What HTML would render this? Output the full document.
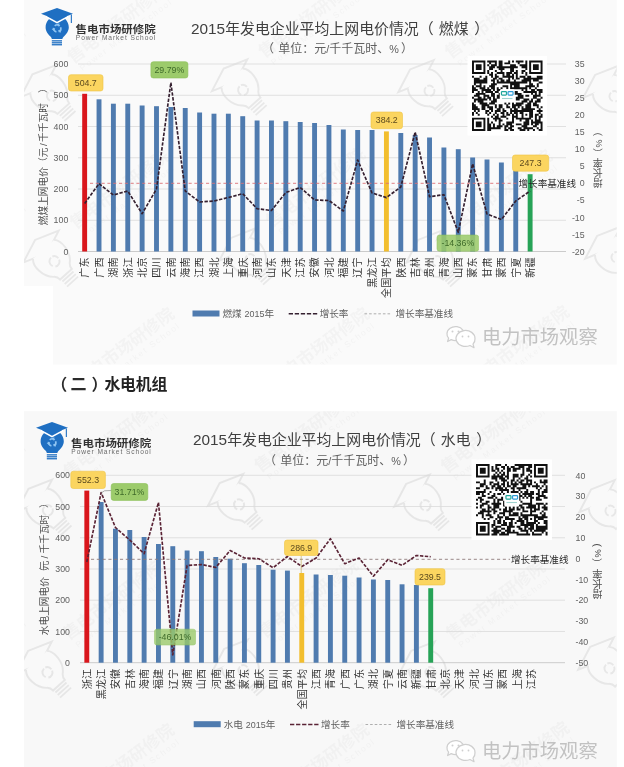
<!DOCTYPE html>
<html lang="zh"><head><meta charset="utf-8"><title>2015年发电企业平均上网电价情况</title>
<style>
html,body{margin:0;padding:0;background:#fff;}
body{width:624px;height:767px;overflow:hidden;position:relative;font-family:"Liberation Sans","Noto Sans CJK SC",sans-serif;}
svg{position:absolute;left:0;display:block;font-family:"Liberation Sans","Noto Sans CJK SC",sans-serif;}
svg text{font-family:"Liberation Sans","Noto Sans CJK SC",sans-serif;}
svg{will-change:transform;}
#c1{top:0;width:624px;height:366px;filter:blur(0.4px);}
#hd{top:366px;width:624px;height:34px;margin:0;position:absolute;left:0;}
#hd svg{top:0;width:624px;height:34px;filter:blur(0.3px);}
#c2{top:400px;width:624px;height:367px;filter:blur(0.4px);}
</style></head><body>
<svg id="c1" viewBox="0 0 624 366" role="img" aria-label="2015年发电企业平均上网电价情况（燃煤）">
<rect x="24.0" y="0.0" width="592.8" height="364.5" fill="#FAFAFA"/>
<rect x="23.0" y="286.0" width="30.0" height="80.0" fill="#fff"/>
<clipPath id="cp1"><rect x="24.0" y="0.0" width="592.8" height="364.5"/></clipPath><g clip-path="url(#cp1)">
<g transform="translate(51.4 95.4) rotate(-42) scale(1.49)" opacity="0.14" fill="#fff" stroke="#7f7f7f" stroke-width="1.3"><path d="M-16 -13 L0 -19 L16 -13 L0 -7 Z"/><path d="M-9.5 -10.5 C-13 -7 -13 3 -7 8 C-5.5 9.5 -5.3 10.5 -5.3 12 L5.3 12 C5.3 10.5 5.5 9.5 7 8 C13 3 13 -7 9.5 -10.5"/><path d="M-5 14 H5 M-5 16.3 H5 M-5 18.6 H5" stroke-width="1.2"/><path d="M-3 2 A3.5 3.5 0 0 1 0 -3 M3.2 1.6 A3.5 3.5 0 0 1 -1.8 3.4 M1.2 -3 A3.5 3.5 0 0 1 3.4 0.6" stroke-width="1.3"/></g>
<g transform="translate(242.6 89.6) rotate(-42) scale(1.49)" opacity="0.14" fill="#fff" stroke="#7f7f7f" stroke-width="1.3"><path d="M-16 -13 L0 -19 L16 -13 L0 -7 Z"/><path d="M-9.5 -10.5 C-13 -7 -13 3 -7 8 C-5.5 9.5 -5.3 10.5 -5.3 12 L5.3 12 C5.3 10.5 5.5 9.5 7 8 C13 3 13 -7 9.5 -10.5"/><path d="M-5 14 H5 M-5 16.3 H5 M-5 18.6 H5" stroke-width="1.2"/><path d="M-3 2 A3.5 3.5 0 0 1 0 -3 M3.2 1.6 A3.5 3.5 0 0 1 -1.8 3.4 M1.2 -3 A3.5 3.5 0 0 1 3.4 0.6" stroke-width="1.3"/></g>
<g transform="translate(429.0 90.5) rotate(-42) scale(1.49)" opacity="0.14" fill="#fff" stroke="#7f7f7f" stroke-width="1.3"><path d="M-16 -13 L0 -19 L16 -13 L0 -7 Z"/><path d="M-9.5 -10.5 C-13 -7 -13 3 -7 8 C-5.5 9.5 -5.3 10.5 -5.3 12 L5.3 12 C5.3 10.5 5.5 9.5 7 8 C13 3 13 -7 9.5 -10.5"/><path d="M-5 14 H5 M-5 16.3 H5 M-5 18.6 H5" stroke-width="1.2"/><path d="M-3 2 A3.5 3.5 0 0 1 0 -3 M3.2 1.6 A3.5 3.5 0 0 1 -1.8 3.4 M1.2 -3 A3.5 3.5 0 0 1 3.4 0.6" stroke-width="1.3"/></g>
<g transform="translate(614.0 96.0) rotate(-42) scale(1.49)" opacity="0.14" fill="#fff" stroke="#7f7f7f" stroke-width="1.3"><path d="M-16 -13 L0 -19 L16 -13 L0 -7 Z"/><path d="M-9.5 -10.5 C-13 -7 -13 3 -7 8 C-5.5 9.5 -5.3 10.5 -5.3 12 L5.3 12 C5.3 10.5 5.5 9.5 7 8 C13 3 13 -7 9.5 -10.5"/><path d="M-5 14 H5 M-5 16.3 H5 M-5 18.6 H5" stroke-width="1.2"/><path d="M-3 2 A3.5 3.5 0 0 1 0 -3 M3.2 1.6 A3.5 3.5 0 0 1 -1.8 3.4 M1.2 -3 A3.5 3.5 0 0 1 3.4 0.6" stroke-width="1.3"/></g>
<g transform="translate(54.0 261.0) rotate(-42) scale(1.49)" opacity="0.14" fill="#fff" stroke="#7f7f7f" stroke-width="1.3"><path d="M-16 -13 L0 -19 L16 -13 L0 -7 Z"/><path d="M-9.5 -10.5 C-13 -7 -13 3 -7 8 C-5.5 9.5 -5.3 10.5 -5.3 12 L5.3 12 C5.3 10.5 5.5 9.5 7 8 C13 3 13 -7 9.5 -10.5"/><path d="M-5 14 H5 M-5 16.3 H5 M-5 18.6 H5" stroke-width="1.2"/><path d="M-3 2 A3.5 3.5 0 0 1 0 -3 M3.2 1.6 A3.5 3.5 0 0 1 -1.8 3.4 M1.2 -3 A3.5 3.5 0 0 1 3.4 0.6" stroke-width="1.3"/></g>
<g transform="translate(250.0 259.0) rotate(-42) scale(1.49)" opacity="0.14" fill="#fff" stroke="#7f7f7f" stroke-width="1.3"><path d="M-16 -13 L0 -19 L16 -13 L0 -7 Z"/><path d="M-9.5 -10.5 C-13 -7 -13 3 -7 8 C-5.5 9.5 -5.3 10.5 -5.3 12 L5.3 12 C5.3 10.5 5.5 9.5 7 8 C13 3 13 -7 9.5 -10.5"/><path d="M-5 14 H5 M-5 16.3 H5 M-5 18.6 H5" stroke-width="1.2"/><path d="M-3 2 A3.5 3.5 0 0 1 0 -3 M3.2 1.6 A3.5 3.5 0 0 1 -1.8 3.4 M1.2 -3 A3.5 3.5 0 0 1 3.4 0.6" stroke-width="1.3"/></g>
<g transform="translate(437.0 261.0) rotate(-42) scale(1.49)" opacity="0.14" fill="#fff" stroke="#7f7f7f" stroke-width="1.3"><path d="M-16 -13 L0 -19 L16 -13 L0 -7 Z"/><path d="M-9.5 -10.5 C-13 -7 -13 3 -7 8 C-5.5 9.5 -5.3 10.5 -5.3 12 L5.3 12 C5.3 10.5 5.5 9.5 7 8 C13 3 13 -7 9.5 -10.5"/><path d="M-5 14 H5 M-5 16.3 H5 M-5 18.6 H5" stroke-width="1.2"/><path d="M-3 2 A3.5 3.5 0 0 1 0 -3 M3.2 1.6 A3.5 3.5 0 0 1 -1.8 3.4 M1.2 -3 A3.5 3.5 0 0 1 3.4 0.6" stroke-width="1.3"/></g>
<g transform="translate(616.0 257.0) rotate(-42) scale(1.49)" opacity="0.14" fill="#fff" stroke="#7f7f7f" stroke-width="1.3"><path d="M-16 -13 L0 -19 L16 -13 L0 -7 Z"/><path d="M-9.5 -10.5 C-13 -7 -13 3 -7 8 C-5.5 9.5 -5.3 10.5 -5.3 12 L5.3 12 C5.3 10.5 5.5 9.5 7 8 C13 3 13 -7 9.5 -10.5"/><path d="M-5 14 H5 M-5 16.3 H5 M-5 18.6 H5" stroke-width="1.2"/><path d="M-3 2 A3.5 3.5 0 0 1 0 -3 M3.2 1.6 A3.5 3.5 0 0 1 -1.8 3.4 M1.2 -3 A3.5 3.5 0 0 1 3.4 0.6" stroke-width="1.3"/></g>
<text transform="translate(120.40 28.40) rotate(-37)" font-size="17" font-weight="bold" fill="#9a9a9a" opacity="0.065" text-anchor="middle">售电市场研修院</text><text transform="translate(127.3 37.6) rotate(-37)" font-size="8.5" fill="#9a9a9a" opacity="0.0715" text-anchor="middle" textLength="112" lengthAdjust="spacing">Power Market School</text>
<text transform="translate(311.60 22.60) rotate(-37)" font-size="17" font-weight="bold" fill="#9a9a9a" opacity="0.065" text-anchor="middle">售电市场研修院</text><text transform="translate(318.5 31.8) rotate(-37)" font-size="8.5" fill="#9a9a9a" opacity="0.0715" text-anchor="middle" textLength="112" lengthAdjust="spacing">Power Market School</text>
<text transform="translate(498.00 23.50) rotate(-37)" font-size="17" font-weight="bold" fill="#9a9a9a" opacity="0.065" text-anchor="middle">售电市场研修院</text><text transform="translate(504.9 32.7) rotate(-37)" font-size="8.5" fill="#9a9a9a" opacity="0.0715" text-anchor="middle" textLength="112" lengthAdjust="spacing">Power Market School</text>
<text transform="translate(123.00 194.00) rotate(-37)" font-size="17" font-weight="bold" fill="#9a9a9a" opacity="0.065" text-anchor="middle">售电市场研修院</text><text transform="translate(129.9 203.2) rotate(-37)" font-size="8.5" fill="#9a9a9a" opacity="0.0715" text-anchor="middle" textLength="112" lengthAdjust="spacing">Power Market School</text>
<text transform="translate(319.00 192.00) rotate(-37)" font-size="17" font-weight="bold" fill="#9a9a9a" opacity="0.065" text-anchor="middle">售电市场研修院</text><text transform="translate(325.9 201.2) rotate(-37)" font-size="8.5" fill="#9a9a9a" opacity="0.0715" text-anchor="middle" textLength="112" lengthAdjust="spacing">Power Market School</text>
<text transform="translate(506.00 194.00) rotate(-37)" font-size="17" font-weight="bold" fill="#9a9a9a" opacity="0.065" text-anchor="middle">售电市场研修院</text><text transform="translate(512.9 203.2) rotate(-37)" font-size="8.5" fill="#9a9a9a" opacity="0.0715" text-anchor="middle" textLength="112" lengthAdjust="spacing">Power Market School</text>
<text transform="translate(128.00 352.00) rotate(-37)" font-size="17" font-weight="bold" fill="#9a9a9a" opacity="0.065" text-anchor="middle">售电市场研修院</text><text transform="translate(134.9 361.2) rotate(-37)" font-size="8.5" fill="#9a9a9a" opacity="0.0715" text-anchor="middle" textLength="112" lengthAdjust="spacing">Power Market School</text>
<text transform="translate(323.00 352.00) rotate(-37)" font-size="17" font-weight="bold" fill="#9a9a9a" opacity="0.065" text-anchor="middle">售电市场研修院</text><text transform="translate(329.9 361.2) rotate(-37)" font-size="8.5" fill="#9a9a9a" opacity="0.0715" text-anchor="middle" textLength="112" lengthAdjust="spacing">Power Market School</text>
<text transform="translate(523.00 350.00) rotate(-37)" font-size="17" font-weight="bold" fill="#9a9a9a" opacity="0.065" text-anchor="middle">售电市场研修院</text><text transform="translate(529.9 359.2) rotate(-37)" font-size="8.5" fill="#9a9a9a" opacity="0.0715" text-anchor="middle" textLength="112" lengthAdjust="spacing">Power Market School</text>
<text transform="translate(-25.00 60.00) rotate(-37)" font-size="17" font-weight="bold" fill="#9a9a9a" opacity="0.065" text-anchor="middle">售电市场研修院</text><text transform="translate(-18.1 69.2) rotate(-37)" font-size="8.5" fill="#9a9a9a" opacity="0.0715" text-anchor="middle" textLength="112" lengthAdjust="spacing">Power Market School</text>
<text transform="translate(-25.00 235.00) rotate(-37)" font-size="17" font-weight="bold" fill="#9a9a9a" opacity="0.065" text-anchor="middle">售电市场研修院</text><text transform="translate(-18.1 244.2) rotate(-37)" font-size="8.5" fill="#9a9a9a" opacity="0.0715" text-anchor="middle" textLength="112" lengthAdjust="spacing">Power Market School</text>
</g>
<line x1="78.00" y1="64.00" x2="566.00" y2="64.00" stroke="#D9D9D9" stroke-width="0.8"/>
<line x1="78.00" y1="95.25" x2="566.00" y2="95.25" stroke="#D9D9D9" stroke-width="0.8"/>
<line x1="78.00" y1="126.50" x2="566.00" y2="126.50" stroke="#D9D9D9" stroke-width="0.8"/>
<line x1="78.00" y1="157.75" x2="566.00" y2="157.75" stroke="#D9D9D9" stroke-width="0.8"/>
<line x1="78.00" y1="189.00" x2="566.00" y2="189.00" stroke="#D9D9D9" stroke-width="0.8"/>
<line x1="78.00" y1="220.25" x2="566.00" y2="220.25" stroke="#D9D9D9" stroke-width="0.8"/>
<line x1="78.00" y1="251.50" x2="566.00" y2="251.50" stroke="#BFBFBF" stroke-width="0.8"/>
<text x="68.30" y="67.10" font-size="8.80" fill="#606060" text-anchor="end">600</text>
<text x="68.30" y="98.35" font-size="8.80" fill="#606060" text-anchor="end">500</text>
<text x="68.30" y="129.60" font-size="8.80" fill="#606060" text-anchor="end">400</text>
<text x="68.30" y="160.85" font-size="8.80" fill="#606060" text-anchor="end">300</text>
<text x="68.30" y="192.10" font-size="8.80" fill="#606060" text-anchor="end">200</text>
<text x="68.30" y="223.35" font-size="8.80" fill="#606060" text-anchor="end">100</text>
<text x="68.30" y="254.60" font-size="8.80" fill="#606060" text-anchor="end">0</text>
<text x="584.60" y="67.10" font-size="8.80" fill="#606060" text-anchor="end">35</text>
<text x="584.60" y="84.15" font-size="8.80" fill="#606060" text-anchor="end">30</text>
<text x="584.60" y="101.19" font-size="8.80" fill="#606060" text-anchor="end">25</text>
<text x="584.60" y="118.24" font-size="8.80" fill="#606060" text-anchor="end">20</text>
<text x="584.60" y="135.28" font-size="8.80" fill="#606060" text-anchor="end">15</text>
<text x="584.60" y="152.33" font-size="8.80" fill="#606060" text-anchor="end">10</text>
<text x="584.60" y="169.37" font-size="8.80" fill="#606060" text-anchor="end">5</text>
<text x="584.60" y="186.42" font-size="8.80" fill="#606060" text-anchor="end">0</text>
<text x="584.60" y="203.46" font-size="8.80" fill="#606060" text-anchor="end">-5</text>
<text x="584.60" y="220.51" font-size="8.80" fill="#606060" text-anchor="end">-10</text>
<text x="584.60" y="237.55" font-size="8.80" fill="#606060" text-anchor="end">-15</text>
<text x="584.60" y="254.60" font-size="8.80" fill="#606060" text-anchor="end">-20</text>
<rect x="82.20" y="93.80" width="4.90" height="157.70" fill="#D9161C"/>
<rect x="96.57" y="99.30" width="4.90" height="152.20" fill="#4F7BAF"/>
<rect x="110.94" y="103.70" width="4.90" height="147.80" fill="#4F7BAF"/>
<rect x="125.31" y="103.70" width="4.90" height="147.80" fill="#4F7BAF"/>
<rect x="139.68" y="105.50" width="4.90" height="146.00" fill="#4F7BAF"/>
<rect x="154.05" y="106.20" width="4.90" height="145.30" fill="#4F7BAF"/>
<rect x="168.42" y="107.00" width="4.90" height="144.50" fill="#4F7BAF"/>
<rect x="182.79" y="108.00" width="4.90" height="143.50" fill="#4F7BAF"/>
<rect x="197.16" y="112.50" width="4.90" height="139.00" fill="#4F7BAF"/>
<rect x="211.53" y="113.70" width="4.90" height="137.80" fill="#4F7BAF"/>
<rect x="225.90" y="113.70" width="4.90" height="137.80" fill="#4F7BAF"/>
<rect x="240.27" y="116.20" width="4.90" height="135.30" fill="#4F7BAF"/>
<rect x="254.64" y="120.50" width="4.90" height="131.00" fill="#4F7BAF"/>
<rect x="269.01" y="120.50" width="4.90" height="131.00" fill="#4F7BAF"/>
<rect x="283.38" y="121.20" width="4.90" height="130.30" fill="#4F7BAF"/>
<rect x="297.75" y="122.00" width="4.90" height="129.50" fill="#4F7BAF"/>
<rect x="312.12" y="123.00" width="4.90" height="128.50" fill="#4F7BAF"/>
<rect x="326.49" y="125.00" width="4.90" height="126.50" fill="#4F7BAF"/>
<rect x="340.86" y="129.50" width="4.90" height="122.00" fill="#4F7BAF"/>
<rect x="355.23" y="130.00" width="4.90" height="121.50" fill="#4F7BAF"/>
<rect x="369.60" y="130.00" width="4.90" height="121.50" fill="#4F7BAF"/>
<rect x="383.97" y="131.40" width="4.90" height="120.10" fill="#F2BE2E"/>
<rect x="398.34" y="133.00" width="4.90" height="118.50" fill="#4F7BAF"/>
<rect x="412.71" y="135.00" width="4.90" height="116.50" fill="#4F7BAF"/>
<rect x="427.08" y="137.50" width="4.90" height="114.00" fill="#4F7BAF"/>
<rect x="441.45" y="147.50" width="4.90" height="104.00" fill="#4F7BAF"/>
<rect x="455.82" y="149.20" width="4.90" height="102.30" fill="#4F7BAF"/>
<rect x="470.19" y="157.50" width="4.90" height="94.00" fill="#4F7BAF"/>
<rect x="484.56" y="159.50" width="4.90" height="92.00" fill="#4F7BAF"/>
<rect x="498.93" y="162.50" width="4.90" height="89.00" fill="#4F7BAF"/>
<rect x="513.30" y="171.00" width="4.90" height="80.50" fill="#4F7BAF"/>
<rect x="527.67" y="174.20" width="4.90" height="77.30" fill="#27A357"/>
<line x1="90.00" y1="183.30" x2="518.00" y2="183.30" stroke="#DD6F75" stroke-width="0.9" stroke-dasharray="3.1 2.7"/>
<polyline points="84.65,203.50 99.02,183.70 113.39,195.00 127.76,191.00 142.13,213.70 156.50,189.00 170.87,82.60 185.24,191.00 199.61,202.00 213.98,201.00 228.35,197.50 242.72,193.70 257.09,208.70 271.46,210.50 285.83,192.50 300.20,187.50 314.57,200.00 328.94,200.50 343.31,211.00 357.68,160.00 372.05,193.00 386.42,197.60 400.79,187.00 415.16,132.00 429.53,196.70 443.90,194.70 458.27,232.30 472.64,163.80 487.01,214.00 501.38,219.50 515.75,201.00 530.12,191.00" fill="none" stroke="#352030" stroke-width="1.65" stroke-dasharray="3.4 1.5" stroke-linejoin="round"/>
<text transform="translate(88.45 257.50) rotate(-90)" font-size="10.1" fill="#333" text-anchor="end">广东</text>
<text transform="translate(102.82 257.50) rotate(-90)" font-size="10.1" fill="#333" text-anchor="end">广西</text>
<text transform="translate(117.19 257.50) rotate(-90)" font-size="10.1" fill="#333" text-anchor="end">湖南</text>
<text transform="translate(131.56 257.50) rotate(-90)" font-size="10.1" fill="#333" text-anchor="end">浙江</text>
<text transform="translate(145.93 257.50) rotate(-90)" font-size="10.1" fill="#333" text-anchor="end">北京</text>
<text transform="translate(160.30 257.50) rotate(-90)" font-size="10.1" fill="#333" text-anchor="end">四川</text>
<text transform="translate(174.67 257.50) rotate(-90)" font-size="10.1" fill="#333" text-anchor="end">云南</text>
<text transform="translate(189.04 257.50) rotate(-90)" font-size="10.1" fill="#333" text-anchor="end">海南</text>
<text transform="translate(203.41 257.50) rotate(-90)" font-size="10.1" fill="#333" text-anchor="end">江西</text>
<text transform="translate(217.78 257.50) rotate(-90)" font-size="10.1" fill="#333" text-anchor="end">湖北</text>
<text transform="translate(232.15 257.50) rotate(-90)" font-size="10.1" fill="#333" text-anchor="end">上海</text>
<text transform="translate(246.52 257.50) rotate(-90)" font-size="10.1" fill="#333" text-anchor="end">重庆</text>
<text transform="translate(260.89 257.50) rotate(-90)" font-size="10.1" fill="#333" text-anchor="end">河南</text>
<text transform="translate(275.26 257.50) rotate(-90)" font-size="10.1" fill="#333" text-anchor="end">山东</text>
<text transform="translate(289.63 257.50) rotate(-90)" font-size="10.1" fill="#333" text-anchor="end">天津</text>
<text transform="translate(304.00 257.50) rotate(-90)" font-size="10.1" fill="#333" text-anchor="end">江苏</text>
<text transform="translate(318.37 257.50) rotate(-90)" font-size="10.1" fill="#333" text-anchor="end">安徽</text>
<text transform="translate(332.74 257.50) rotate(-90)" font-size="10.1" fill="#333" text-anchor="end">河北</text>
<text transform="translate(347.11 257.50) rotate(-90)" font-size="10.1" fill="#333" text-anchor="end">福建</text>
<text transform="translate(361.48 257.50) rotate(-90)" font-size="10.1" fill="#333" text-anchor="end">辽宁</text>
<text transform="translate(375.85 257.50) rotate(-90)" font-size="10.1" fill="#333" text-anchor="end">黑龙江</text>
<text transform="translate(390.22 257.50) rotate(-90)" font-size="10.1" fill="#333" text-anchor="end">全国平均</text>
<text transform="translate(404.59 257.50) rotate(-90)" font-size="10.1" fill="#333" text-anchor="end">陕西</text>
<text transform="translate(418.96 257.50) rotate(-90)" font-size="10.1" fill="#333" text-anchor="end">吉林</text>
<text transform="translate(433.33 257.50) rotate(-90)" font-size="10.1" fill="#333" text-anchor="end">贵州</text>
<text transform="translate(447.70 257.50) rotate(-90)" font-size="10.1" fill="#333" text-anchor="end">青海</text>
<text transform="translate(462.07 257.50) rotate(-90)" font-size="10.1" fill="#333" text-anchor="end">山西</text>
<text transform="translate(476.44 257.50) rotate(-90)" font-size="10.1" fill="#333" text-anchor="end">蒙东</text>
<text transform="translate(490.81 257.50) rotate(-90)" font-size="10.1" fill="#333" text-anchor="end">甘肃</text>
<text transform="translate(505.18 257.50) rotate(-90)" font-size="10.1" fill="#333" text-anchor="end">蒙西</text>
<text transform="translate(519.55 257.50) rotate(-90)" font-size="10.1" fill="#333" text-anchor="end">宁夏</text>
<text transform="translate(533.92 257.50) rotate(-90)" font-size="10.1" fill="#333" text-anchor="end">新疆</text>
<text x="518.50" y="186.90" font-size="9.6" fill="#262626">增长率基准线</text>
<g transform="translate(46.70 225.20) rotate(-90)" fill="#4d4d4d" aria-label="燃煤上网电价（元/千千瓦时）"><text x="0" y="0" font-size="9.7">燃煤上网电价（</text><text x="67.90" y="0" font-size="9.7">元</text><text x="79.10" y="0" font-size="9.70">/</text><text x="83.29" y="0" font-size="9.7">千千瓦时</text><text x="132.09" y="0" font-size="9.7">）</text></g>
<text transform="translate(597.70 179.10) rotate(180)" font-size="10" fill="#4d4d4d" text-anchor="middle">增</text>
<text transform="translate(597.70 169.10) rotate(180)" font-size="10" fill="#4d4d4d" text-anchor="middle">长</text>
<text transform="translate(597.70 159.10) rotate(180)" font-size="10" fill="#4d4d4d" text-anchor="middle">率</text>
<g transform="translate(601.50 157.90) rotate(-90)" fill="#4d4d4d" aria-label="（%）"><text x="0" y="0" font-size="10">（</text><text x="10.30" y="0" font-size="9.00">%</text><text x="21.60" y="0" font-size="10">）</text></g>
<g transform="translate(191.00 33.50)" fill="#404040" aria-label="2015年发电企业平均上网电价情况（燃煤）"><text x="0.00" y="0" font-size="15.35">2015</text><text x="34.14" y="0" font-size="14.9">年发电企业平均上网电价情况（</text><text x="247.84" y="0" font-size="14.9">燃煤</text><text x="283.34" y="0" font-size="14.9">）</text></g>
<g transform="translate(262.00 53.20)" fill="#606060" aria-label="（单位：元/千千瓦时、%）"><text x="0" y="0" font-size="12">（</text><text x="16.30" y="0" font-size="12">单位：元</text><text x="64.30" y="0" font-size="10.80">/</text><text x="67.30" y="0" font-size="12">千千瓦时、</text><text x="127.30" y="0" font-size="10.80">%</text><text x="138.90" y="0" font-size="12">）</text></g>
<g transform="translate(41.00 8.00)"><path d="M16.2 8 C9.5 8 4.6 13 4.6 19.3 C4.6 23.5 7 26 9.2 28.3 C10.3 29.5 10.8 30.3 10.8 31 L21.4 31 C21.4 30.3 22 29.5 23.1 28.3 C25.3 26 27.8 23.5 27.8 19.3 C27.8 13 22.9 8 16.2 8 Z" fill="#1F6FC2"/><rect x="10.8" y="32.20" width="10.2" height="1.3" fill="#1F6FC2"/><rect x="10.8" y="34.15" width="10.2" height="1.3" fill="#1F6FC2"/><rect x="10.8" y="36.10" width="10.2" height="1.3" fill="#1F6FC2"/><path d="M5 9.5 L16 15.5 L27 9.5 L27 6 L5 6 Z" fill="#fff"/><path d="M6.5 8.5 L16 13.8 L25.7 8.5 L25.7 6 L6.5 6 Z" fill="#1F6FC2"/><path d="M0 5.8 L16 0 L32 5.8 L16 12 Z" fill="#1F6FC2"/><rect x="29.8" y="6.5" width="1.1" height="8.5" fill="#1F6FC2"/><g fill="none" stroke="#8FC4F2" stroke-width="1.7" transform="translate(16.2 20.4)"><circle r="3.6" stroke-dasharray="5.3 2.24" transform="rotate(-20)"/></g><g fill="#8FC4F2" transform="translate(16.2 20.4)"><path d="M3.6 -1.9 L5.6 0.4 L1.9 0.6 Z" transform="rotate(50)"/><path d="M3.6 -1.9 L5.6 0.4 L1.9 0.6 Z" transform="rotate(170)"/><path d="M3.6 -1.9 L5.6 0.4 L1.9 0.6 Z" transform="rotate(290)"/></g></g>
<text transform="translate(75.50 32.50) scale(1.115 1)" font-size="10.3" font-weight="bold" fill="#333">售电市场研修院</text><text x="75.80" y="40.10" font-size="6.6" fill="#6a6a6a" textLength="79.5" lengthAdjust="spacing">Power Market School</text>
<rect x="467.50" y="56.00" width="79.50" height="79.50" fill="#fff"/><path d="M472.00 60.50h13.39v1.96h-13.39zM487.24 60.50h9.58v1.96h-9.58zM498.68 60.50h3.86v1.96h-3.86zM508.20 60.50h1.96v1.96h-1.96zM512.01 60.50h1.96v1.96h-1.96zM515.82 60.50h7.67v1.96h-7.67zM525.35 60.50h1.96v1.96h-1.96zM529.16 60.50h13.39v1.96h-13.39zM472.00 62.41h1.96v1.96h-1.96zM483.43 62.41h1.96v1.96h-1.96zM489.15 62.41h1.96v1.96h-1.96zM494.86 62.41h1.96v1.96h-1.96zM498.68 62.41h3.86v1.96h-3.86zM504.39 62.41h5.77v1.96h-5.77zM517.73 62.41h1.96v1.96h-1.96zM525.35 62.41h1.96v1.96h-1.96zM529.16 62.41h1.96v1.96h-1.96zM540.59 62.41h1.96v1.96h-1.96zM472.00 64.31h1.96v1.96h-1.96zM475.81 64.31h5.77v1.96h-5.77zM483.43 64.31h1.96v1.96h-1.96zM487.24 64.31h1.96v1.96h-1.96zM491.05 64.31h5.77v1.96h-5.77zM498.68 64.31h3.86v1.96h-3.86zM510.11 64.31h5.77v1.96h-5.77zM519.64 64.31h7.67v1.96h-7.67zM529.16 64.31h1.96v1.96h-1.96zM532.97 64.31h5.77v1.96h-5.77zM540.59 64.31h1.96v1.96h-1.96zM472.00 66.22h1.96v1.96h-1.96zM475.81 66.22h5.77v1.96h-5.77zM483.43 66.22h1.96v1.96h-1.96zM489.15 66.22h5.77v1.96h-5.77zM496.77 66.22h21.01v1.96h-21.01zM521.54 66.22h5.77v1.96h-5.77zM529.16 66.22h1.96v1.96h-1.96zM532.97 66.22h5.77v1.96h-5.77zM540.59 66.22h1.96v1.96h-1.96zM472.00 68.12h1.96v1.96h-1.96zM475.81 68.12h5.77v1.96h-5.77zM483.43 68.12h1.96v1.96h-1.96zM489.15 68.12h3.86v1.96h-3.86zM498.68 68.12h5.77v1.96h-5.77zM510.11 68.12h3.86v1.96h-3.86zM525.35 68.12h1.96v1.96h-1.96zM529.16 68.12h1.96v1.96h-1.96zM532.97 68.12h5.77v1.96h-5.77zM540.59 68.12h1.96v1.96h-1.96zM472.00 70.03h1.96v1.96h-1.96zM483.43 70.03h1.96v1.96h-1.96zM487.24 70.03h1.96v1.96h-1.96zM494.86 70.03h1.96v1.96h-1.96zM500.58 70.03h1.96v1.96h-1.96zM510.11 70.03h3.86v1.96h-3.86zM515.82 70.03h1.96v1.96h-1.96zM521.54 70.03h3.86v1.96h-3.86zM529.16 70.03h1.96v1.96h-1.96zM540.59 70.03h1.96v1.96h-1.96zM472.00 71.93h13.39v1.96h-13.39zM487.24 71.93h1.96v1.96h-1.96zM491.05 71.93h1.96v1.96h-1.96zM496.77 71.93h7.67v1.96h-7.67zM506.30 71.93h5.77v1.96h-5.77zM513.92 71.93h3.86v1.96h-3.86zM521.54 71.93h1.96v1.96h-1.96zM525.35 71.93h1.96v1.96h-1.96zM529.16 71.93h13.39v1.96h-13.39zM489.15 73.84h3.86v1.96h-3.86zM494.86 73.84h1.96v1.96h-1.96zM502.49 73.84h1.96v1.96h-1.96zM506.30 73.84h3.86v1.96h-3.86zM512.01 73.84h1.96v1.96h-1.96zM515.82 73.84h1.96v1.96h-1.96zM525.35 73.84h1.96v1.96h-1.96zM472.00 75.74h1.96v1.96h-1.96zM479.62 75.74h1.96v1.96h-1.96zM485.34 75.74h1.96v1.96h-1.96zM491.05 75.74h1.96v1.96h-1.96zM494.86 75.74h3.86v1.96h-3.86zM502.49 75.74h11.48v1.96h-11.48zM515.82 75.74h1.96v1.96h-1.96zM519.64 75.74h5.77v1.96h-5.77zM527.26 75.74h3.86v1.96h-3.86zM536.78 75.74h5.77v1.96h-5.77zM473.91 77.65h5.77v1.96h-5.77zM483.43 77.65h3.86v1.96h-3.86zM492.96 77.65h3.86v1.96h-3.86zM498.68 77.65h3.86v1.96h-3.86zM508.20 77.65h1.96v1.96h-1.96zM512.01 77.65h1.96v1.96h-1.96zM515.82 77.65h3.86v1.96h-3.86zM523.45 77.65h19.10v1.96h-19.10zM473.91 79.55h13.39v1.96h-13.39zM491.05 79.55h3.86v1.96h-3.86zM496.77 79.55h1.96v1.96h-1.96zM500.58 79.55h3.86v1.96h-3.86zM506.30 79.55h3.86v1.96h-3.86zM513.92 79.55h1.96v1.96h-1.96zM521.54 79.55h9.58v1.96h-9.58zM532.97 79.55h5.77v1.96h-5.77zM473.91 81.46h13.39v1.96h-13.39zM492.96 81.46h1.96v1.96h-1.96zM496.77 81.46h30.54v1.96h-30.54zM529.16 81.46h1.96v1.96h-1.96zM538.69 81.46h3.86v1.96h-3.86zM473.91 83.36h1.96v1.96h-1.96zM479.62 83.36h1.96v1.96h-1.96zM491.05 83.36h5.77v1.96h-5.77zM510.11 83.36h9.58v1.96h-9.58zM529.16 83.36h3.86v1.96h-3.86zM536.78 83.36h1.96v1.96h-1.96zM472.00 85.27h1.96v1.96h-1.96zM475.81 85.27h5.77v1.96h-5.77zM483.43 85.27h1.96v1.96h-1.96zM489.15 85.27h5.77v1.96h-5.77zM502.49 85.27h5.77v1.96h-5.77zM510.11 85.27h1.96v1.96h-1.96zM513.92 85.27h5.77v1.96h-5.77zM525.35 85.27h9.58v1.96h-9.58zM536.78 85.27h1.96v1.96h-1.96zM472.00 87.18h3.86v1.96h-3.86zM479.62 87.18h5.77v1.96h-5.77zM487.24 87.18h1.96v1.96h-1.96zM491.05 87.18h3.86v1.96h-3.86zM496.77 87.18h1.96v1.96h-1.96zM500.58 87.18h1.96v1.96h-1.96zM506.30 87.18h1.96v1.96h-1.96zM510.11 87.18h17.20v1.96h-17.20zM529.16 87.18h1.96v1.96h-1.96zM534.88 87.18h1.96v1.96h-1.96zM472.00 89.08h5.77v1.96h-5.77zM481.53 89.08h9.58v1.96h-9.58zM492.96 89.08h1.96v1.96h-1.96zM496.77 89.08h3.86v1.96h-3.86zM521.54 89.08h1.96v1.96h-1.96zM525.35 89.08h1.96v1.96h-1.96zM531.07 89.08h3.86v1.96h-3.86zM536.78 89.08h5.77v1.96h-5.77zM472.00 90.99h1.96v1.96h-1.96zM477.72 90.99h1.96v1.96h-1.96zM481.53 90.99h1.96v1.96h-1.96zM485.34 90.99h7.67v1.96h-7.67zM494.86 90.99h3.86v1.96h-3.86zM513.92 90.99h3.86v1.96h-3.86zM523.45 90.99h13.39v1.96h-13.39zM538.69 90.99h3.86v1.96h-3.86zM475.81 92.89h9.58v1.96h-9.58zM491.05 92.89h3.86v1.96h-3.86zM498.68 92.89h1.96v1.96h-1.96zM513.92 92.89h7.67v1.96h-7.67zM531.07 92.89h1.96v1.96h-1.96zM534.88 92.89h1.96v1.96h-1.96zM538.69 92.89h1.96v1.96h-1.96zM473.91 94.80h5.77v1.96h-5.77zM483.43 94.80h5.77v1.96h-5.77zM491.05 94.80h3.86v1.96h-3.86zM496.77 94.80h3.86v1.96h-3.86zM517.73 94.80h5.77v1.96h-5.77zM525.35 94.80h3.86v1.96h-3.86zM532.97 94.80h7.67v1.96h-7.67zM472.00 96.70h1.96v1.96h-1.96zM477.72 96.70h3.86v1.96h-3.86zM483.43 96.70h1.96v1.96h-1.96zM487.24 96.70h3.86v1.96h-3.86zM492.96 96.70h1.96v1.96h-1.96zM496.77 96.70h3.86v1.96h-3.86zM515.82 96.70h7.67v1.96h-7.67zM532.97 96.70h3.86v1.96h-3.86zM540.59 96.70h1.96v1.96h-1.96zM473.91 98.61h13.39v1.96h-13.39zM489.15 98.61h1.96v1.96h-1.96zM492.96 98.61h3.86v1.96h-3.86zM515.82 98.61h3.86v1.96h-3.86zM523.45 98.61h5.77v1.96h-5.77zM531.07 98.61h1.96v1.96h-1.96zM536.78 98.61h3.86v1.96h-3.86zM473.91 100.51h1.96v1.96h-1.96zM477.72 100.51h5.77v1.96h-5.77zM491.05 100.51h5.77v1.96h-5.77zM521.54 100.51h5.77v1.96h-5.77zM529.16 100.51h3.86v1.96h-3.86zM534.88 100.51h5.77v1.96h-5.77zM472.00 102.42h1.96v1.96h-1.96zM479.62 102.42h7.67v1.96h-7.67zM489.15 102.42h5.77v1.96h-5.77zM504.39 102.42h1.96v1.96h-1.96zM508.20 102.42h1.96v1.96h-1.96zM512.01 102.42h1.96v1.96h-1.96zM515.82 102.42h7.67v1.96h-7.67zM527.26 102.42h3.86v1.96h-3.86zM532.97 102.42h3.86v1.96h-3.86zM472.00 104.32h3.86v1.96h-3.86zM481.53 104.32h7.67v1.96h-7.67zM494.86 104.32h1.96v1.96h-1.96zM498.68 104.32h3.86v1.96h-3.86zM506.30 104.32h1.96v1.96h-1.96zM512.01 104.32h9.58v1.96h-9.58zM525.35 104.32h5.77v1.96h-5.77zM532.97 104.32h5.77v1.96h-5.77zM472.00 106.23h5.77v1.96h-5.77zM481.53 106.23h3.86v1.96h-3.86zM487.24 106.23h5.77v1.96h-5.77zM494.86 106.23h1.96v1.96h-1.96zM498.68 106.23h3.86v1.96h-3.86zM506.30 106.23h3.86v1.96h-3.86zM512.01 106.23h3.86v1.96h-3.86zM517.73 106.23h1.96v1.96h-1.96zM521.54 106.23h1.96v1.96h-1.96zM525.35 106.23h5.77v1.96h-5.77zM536.78 106.23h1.96v1.96h-1.96zM540.59 106.23h1.96v1.96h-1.96zM472.00 108.14h7.67v1.96h-7.67zM481.53 108.14h3.86v1.96h-3.86zM489.15 108.14h3.86v1.96h-3.86zM496.77 108.14h3.86v1.96h-3.86zM502.49 108.14h1.96v1.96h-1.96zM510.11 108.14h1.96v1.96h-1.96zM513.92 108.14h3.86v1.96h-3.86zM521.54 108.14h13.39v1.96h-13.39zM538.69 108.14h1.96v1.96h-1.96zM473.91 110.04h1.96v1.96h-1.96zM477.72 110.04h1.96v1.96h-1.96zM485.34 110.04h3.86v1.96h-3.86zM491.05 110.04h1.96v1.96h-1.96zM494.86 110.04h5.77v1.96h-5.77zM502.49 110.04h3.86v1.96h-3.86zM510.11 110.04h22.91v1.96h-22.91zM536.78 110.04h5.77v1.96h-5.77zM472.00 111.95h1.96v1.96h-1.96zM475.81 111.95h1.96v1.96h-1.96zM485.34 111.95h1.96v1.96h-1.96zM489.15 111.95h1.96v1.96h-1.96zM494.86 111.95h1.96v1.96h-1.96zM500.58 111.95h3.86v1.96h-3.86zM506.30 111.95h1.96v1.96h-1.96zM510.11 111.95h1.96v1.96h-1.96zM513.92 111.95h3.86v1.96h-3.86zM519.64 111.95h3.86v1.96h-3.86zM529.16 111.95h3.86v1.96h-3.86zM538.69 111.95h1.96v1.96h-1.96zM472.00 113.85h1.96v1.96h-1.96zM477.72 113.85h1.96v1.96h-1.96zM487.24 113.85h1.96v1.96h-1.96zM492.96 113.85h1.96v1.96h-1.96zM496.77 113.85h1.96v1.96h-1.96zM502.49 113.85h1.96v1.96h-1.96zM506.30 113.85h3.86v1.96h-3.86zM512.01 113.85h1.96v1.96h-1.96zM515.82 113.85h1.96v1.96h-1.96zM521.54 113.85h1.96v1.96h-1.96zM525.35 113.85h1.96v1.96h-1.96zM529.16 113.85h3.86v1.96h-3.86zM534.88 113.85h3.86v1.96h-3.86zM540.59 113.85h1.96v1.96h-1.96zM491.05 115.76h1.96v1.96h-1.96zM494.86 115.76h3.86v1.96h-3.86zM500.58 115.76h5.77v1.96h-5.77zM512.01 115.76h5.77v1.96h-5.77zM521.54 115.76h1.96v1.96h-1.96zM529.16 115.76h3.86v1.96h-3.86zM534.88 115.76h1.96v1.96h-1.96zM538.69 115.76h3.86v1.96h-3.86zM472.00 117.66h13.39v1.96h-13.39zM487.24 117.66h1.96v1.96h-1.96zM492.96 117.66h7.67v1.96h-7.67zM506.30 117.66h1.96v1.96h-1.96zM512.01 117.66h1.96v1.96h-1.96zM515.82 117.66h15.29v1.96h-15.29zM534.88 117.66h1.96v1.96h-1.96zM538.69 117.66h1.96v1.96h-1.96zM472.00 119.57h1.96v1.96h-1.96zM483.43 119.57h1.96v1.96h-1.96zM487.24 119.57h1.96v1.96h-1.96zM494.86 119.57h1.96v1.96h-1.96zM498.68 119.57h3.86v1.96h-3.86zM512.01 119.57h1.96v1.96h-1.96zM519.64 119.57h1.96v1.96h-1.96zM525.35 119.57h3.86v1.96h-3.86zM531.07 119.57h1.96v1.96h-1.96zM534.88 119.57h5.77v1.96h-5.77zM472.00 121.47h1.96v1.96h-1.96zM475.81 121.47h5.77v1.96h-5.77zM483.43 121.47h1.96v1.96h-1.96zM487.24 121.47h1.96v1.96h-1.96zM491.05 121.47h1.96v1.96h-1.96zM498.68 121.47h1.96v1.96h-1.96zM506.30 121.47h7.67v1.96h-7.67zM523.45 121.47h5.77v1.96h-5.77zM531.07 121.47h11.48v1.96h-11.48zM472.00 123.38h1.96v1.96h-1.96zM475.81 123.38h5.77v1.96h-5.77zM483.43 123.38h1.96v1.96h-1.96zM487.24 123.38h3.86v1.96h-3.86zM492.96 123.38h1.96v1.96h-1.96zM498.68 123.38h1.96v1.96h-1.96zM502.49 123.38h1.96v1.96h-1.96zM506.30 123.38h5.77v1.96h-5.77zM515.82 123.38h5.77v1.96h-5.77zM523.45 123.38h5.77v1.96h-5.77zM531.07 123.38h1.96v1.96h-1.96zM534.88 123.38h3.86v1.96h-3.86zM540.59 123.38h1.96v1.96h-1.96zM472.00 125.28h1.96v1.96h-1.96zM475.81 125.28h5.77v1.96h-5.77zM483.43 125.28h1.96v1.96h-1.96zM487.24 125.28h3.86v1.96h-3.86zM492.96 125.28h1.96v1.96h-1.96zM496.77 125.28h5.77v1.96h-5.77zM504.39 125.28h3.86v1.96h-3.86zM510.11 125.28h3.86v1.96h-3.86zM521.54 125.28h5.77v1.96h-5.77zM532.97 125.28h3.86v1.96h-3.86zM540.59 125.28h1.96v1.96h-1.96zM472.00 127.19h1.96v1.96h-1.96zM483.43 127.19h1.96v1.96h-1.96zM487.24 127.19h13.39v1.96h-13.39zM504.39 127.19h1.96v1.96h-1.96zM508.20 127.19h3.86v1.96h-3.86zM517.73 127.19h3.86v1.96h-3.86zM523.45 127.19h9.58v1.96h-9.58zM536.78 127.19h1.96v1.96h-1.96zM540.59 127.19h1.96v1.96h-1.96zM472.00 129.09h13.39v1.96h-13.39zM487.24 129.09h3.86v1.96h-3.86zM504.39 129.09h3.86v1.96h-3.86zM510.11 129.09h3.86v1.96h-3.86zM519.64 129.09h5.77v1.96h-5.77zM527.26 129.09h1.96v1.96h-1.96zM532.97 129.09h1.96v1.96h-1.96zM538.69 129.09h3.86v1.96h-3.86z" fill="#111"/><rect x="499.75" y="89.25" width="15" height="13" rx="1.5" fill="#fff"/><rect x="501.45" y="91.55" width="5" height="3.6" rx="0.8" fill="none" stroke="#1FA79A" stroke-width="1.2"/><rect x="508.05" y="91.55" width="5" height="3.6" rx="0.8" fill="none" stroke="#2C9BD6" stroke-width="1.2"/><rect x="501.95" y="97.95" width="10.5" height="1.1" fill="#9fd3cf"/>
<rect x="192.50" y="310.50" width="27" height="6" fill="#4F7BAF"/>
<g transform="translate(222.50 317.00)" fill="#606060" aria-label="燃煤 2015年"><text x="0" y="0" font-size="9.6">燃煤</text><text x="22.08" y="0" font-size="8.93">2015</text><text x="41.94" y="0" font-size="9.6">年</text></g>
<line x1="288.70" y1="313.80" x2="318.20" y2="313.80" stroke="#352030" stroke-width="1.6" stroke-dasharray="4.3 1.75"/>
<text x="319.70" y="317.00" font-size="9.6" fill="#606060">增长率</text>
<line x1="364.50" y1="313.80" x2="391.00" y2="313.80" stroke="#9a9a9a" stroke-width="0.8" stroke-dasharray="2.6 2"/>
<text x="395.50" y="317.00" font-size="9.6" fill="#606060">增长率基准线</text>
<rect x="68.50" y="74.70" width="34.50" height="16.30" rx="2.5" fill="#FBD560" stroke="#EFC443" stroke-width="0.6" opacity="1"/><text x="85.75" y="85.95" font-size="8.80" fill="#5C4A1E" text-anchor="middle">504.7</text>
<rect x="150.90" y="61.70" width="37.00" height="16.30" rx="2.5" fill="#9CCB6B" stroke="#8ABF58" stroke-width="0.6" opacity="1"/><text x="169.40" y="72.95" font-size="8.80" fill="#3F6B2A" text-anchor="middle">29.79%</text>
<rect x="371.00" y="112.00" width="31.50" height="16.70" rx="2.5" fill="#FBD560" stroke="#EFC443" stroke-width="0.6" opacity="1"/><text x="386.75" y="123.45" font-size="8.80" fill="#5C4A1E" text-anchor="middle">384.2</text>
<rect x="512.50" y="155.00" width="36.20" height="16.20" rx="2.5" fill="#FBD560" stroke="#EFC443" stroke-width="0.6" opacity="1"/><text x="530.60" y="166.20" font-size="8.80" fill="#5C4A1E" text-anchor="middle">247.3</text>
<rect x="437.00" y="235.00" width="41.70" height="16.20" rx="2.5" fill="#9CCB6B" stroke="#8ABF58" stroke-width="0.6" opacity="0.88"/><text x="457.85" y="246.20" font-size="8.80" fill="#3F6B2A" text-anchor="middle">-14.36%</text>
<g fill="none" stroke="#CFCFCF" stroke-width="1.25" stroke-linejoin="round"><path d="M447.00 333.50 a8.5 7 0 1 1 4.2 6.1 l-3.6 1.9 l1 -3.3 a8.5 7 0 0 1 -1.6 -4.7 z" fill="#fff"/><path d="M475.00 338.50 a9.5 8 0 1 0 -5 7 l4 2.2 l-1 -3.6 a9.5 8 0 0 0 2 -5.6 z" fill="#fff"/></g><g fill="#CFCFCF"><circle cx="452.50" cy="331.50" r="1"/><circle cx="458.50" cy="331.50" r="1"/><circle cx="462.50" cy="336.50" r="0.9"/><circle cx="468.50" cy="336.50" r="0.9"/></g>
<text x="482.00" y="343.50" font-size="19.3" fill="#C2C2C2">电力市场观察</text>
</svg>
<h3 id="hd"><svg viewBox="0 366 624 34" role="img" aria-label="（二）水电机组"><text x="51.20" y="390.00" font-size="16" fill="#2b2b2b">（</text><text x="70.60" y="390.00" font-size="16" fill="#2b2b2b">二</text><text x="91.40" y="390.00" font-size="16" fill="#2b2b2b">）</text><text x="104.40" y="390.00" font-size="15.9" font-weight="bold" letter-spacing="-0.2" fill="#222">水电机组</text></svg></h3>
<svg id="c2" viewBox="0 400 624 367" role="img" aria-label="2015年发电企业平均上网电价情况（水电）">
<rect x="24.0" y="411.2" width="592.8" height="356.0" fill="#F8F8F8"/>
<clipPath id="cp2"><rect x="24.0" y="411.2" width="592.8" height="356.0"/></clipPath><g clip-path="url(#cp2)">
<g transform="translate(47.4 509.9) rotate(-42) scale(1.49)" opacity="0.14" fill="#fff" stroke="#7f7f7f" stroke-width="1.3"><path d="M-16 -13 L0 -19 L16 -13 L0 -7 Z"/><path d="M-9.5 -10.5 C-13 -7 -13 3 -7 8 C-5.5 9.5 -5.3 10.5 -5.3 12 L5.3 12 C5.3 10.5 5.5 9.5 7 8 C13 3 13 -7 9.5 -10.5"/><path d="M-5 14 H5 M-5 16.3 H5 M-5 18.6 H5" stroke-width="1.2"/><path d="M-3 2 A3.5 3.5 0 0 1 0 -3 M3.2 1.6 A3.5 3.5 0 0 1 -1.8 3.4 M1.2 -3 A3.5 3.5 0 0 1 3.4 0.6" stroke-width="1.3"/></g>
<g transform="translate(238.6 504.1) rotate(-42) scale(1.49)" opacity="0.14" fill="#fff" stroke="#7f7f7f" stroke-width="1.3"><path d="M-16 -13 L0 -19 L16 -13 L0 -7 Z"/><path d="M-9.5 -10.5 C-13 -7 -13 3 -7 8 C-5.5 9.5 -5.3 10.5 -5.3 12 L5.3 12 C5.3 10.5 5.5 9.5 7 8 C13 3 13 -7 9.5 -10.5"/><path d="M-5 14 H5 M-5 16.3 H5 M-5 18.6 H5" stroke-width="1.2"/><path d="M-3 2 A3.5 3.5 0 0 1 0 -3 M3.2 1.6 A3.5 3.5 0 0 1 -1.8 3.4 M1.2 -3 A3.5 3.5 0 0 1 3.4 0.6" stroke-width="1.3"/></g>
<g transform="translate(425.0 505.0) rotate(-42) scale(1.49)" opacity="0.14" fill="#fff" stroke="#7f7f7f" stroke-width="1.3"><path d="M-16 -13 L0 -19 L16 -13 L0 -7 Z"/><path d="M-9.5 -10.5 C-13 -7 -13 3 -7 8 C-5.5 9.5 -5.3 10.5 -5.3 12 L5.3 12 C5.3 10.5 5.5 9.5 7 8 C13 3 13 -7 9.5 -10.5"/><path d="M-5 14 H5 M-5 16.3 H5 M-5 18.6 H5" stroke-width="1.2"/><path d="M-3 2 A3.5 3.5 0 0 1 0 -3 M3.2 1.6 A3.5 3.5 0 0 1 -1.8 3.4 M1.2 -3 A3.5 3.5 0 0 1 3.4 0.6" stroke-width="1.3"/></g>
<g transform="translate(610.0 510.5) rotate(-42) scale(1.49)" opacity="0.14" fill="#fff" stroke="#7f7f7f" stroke-width="1.3"><path d="M-16 -13 L0 -19 L16 -13 L0 -7 Z"/><path d="M-9.5 -10.5 C-13 -7 -13 3 -7 8 C-5.5 9.5 -5.3 10.5 -5.3 12 L5.3 12 C5.3 10.5 5.5 9.5 7 8 C13 3 13 -7 9.5 -10.5"/><path d="M-5 14 H5 M-5 16.3 H5 M-5 18.6 H5" stroke-width="1.2"/><path d="M-3 2 A3.5 3.5 0 0 1 0 -3 M3.2 1.6 A3.5 3.5 0 0 1 -1.8 3.4 M1.2 -3 A3.5 3.5 0 0 1 3.4 0.6" stroke-width="1.3"/></g>
<g transform="translate(47.0 672.0) rotate(-42) scale(1.49)" opacity="0.14" fill="#fff" stroke="#7f7f7f" stroke-width="1.3"><path d="M-16 -13 L0 -19 L16 -13 L0 -7 Z"/><path d="M-9.5 -10.5 C-13 -7 -13 3 -7 8 C-5.5 9.5 -5.3 10.5 -5.3 12 L5.3 12 C5.3 10.5 5.5 9.5 7 8 C13 3 13 -7 9.5 -10.5"/><path d="M-5 14 H5 M-5 16.3 H5 M-5 18.6 H5" stroke-width="1.2"/><path d="M-3 2 A3.5 3.5 0 0 1 0 -3 M3.2 1.6 A3.5 3.5 0 0 1 -1.8 3.4 M1.2 -3 A3.5 3.5 0 0 1 3.4 0.6" stroke-width="1.3"/></g>
<g transform="translate(243.0 670.0) rotate(-42) scale(1.49)" opacity="0.14" fill="#fff" stroke="#7f7f7f" stroke-width="1.3"><path d="M-16 -13 L0 -19 L16 -13 L0 -7 Z"/><path d="M-9.5 -10.5 C-13 -7 -13 3 -7 8 C-5.5 9.5 -5.3 10.5 -5.3 12 L5.3 12 C5.3 10.5 5.5 9.5 7 8 C13 3 13 -7 9.5 -10.5"/><path d="M-5 14 H5 M-5 16.3 H5 M-5 18.6 H5" stroke-width="1.2"/><path d="M-3 2 A3.5 3.5 0 0 1 0 -3 M3.2 1.6 A3.5 3.5 0 0 1 -1.8 3.4 M1.2 -3 A3.5 3.5 0 0 1 3.4 0.6" stroke-width="1.3"/></g>
<g transform="translate(430.0 672.0) rotate(-42) scale(1.49)" opacity="0.14" fill="#fff" stroke="#7f7f7f" stroke-width="1.3"><path d="M-16 -13 L0 -19 L16 -13 L0 -7 Z"/><path d="M-9.5 -10.5 C-13 -7 -13 3 -7 8 C-5.5 9.5 -5.3 10.5 -5.3 12 L5.3 12 C5.3 10.5 5.5 9.5 7 8 C13 3 13 -7 9.5 -10.5"/><path d="M-5 14 H5 M-5 16.3 H5 M-5 18.6 H5" stroke-width="1.2"/><path d="M-3 2 A3.5 3.5 0 0 1 0 -3 M3.2 1.6 A3.5 3.5 0 0 1 -1.8 3.4 M1.2 -3 A3.5 3.5 0 0 1 3.4 0.6" stroke-width="1.3"/></g>
<g transform="translate(609.0 668.0) rotate(-42) scale(1.49)" opacity="0.14" fill="#fff" stroke="#7f7f7f" stroke-width="1.3"><path d="M-16 -13 L0 -19 L16 -13 L0 -7 Z"/><path d="M-9.5 -10.5 C-13 -7 -13 3 -7 8 C-5.5 9.5 -5.3 10.5 -5.3 12 L5.3 12 C5.3 10.5 5.5 9.5 7 8 C13 3 13 -7 9.5 -10.5"/><path d="M-5 14 H5 M-5 16.3 H5 M-5 18.6 H5" stroke-width="1.2"/><path d="M-3 2 A3.5 3.5 0 0 1 0 -3 M3.2 1.6 A3.5 3.5 0 0 1 -1.8 3.4 M1.2 -3 A3.5 3.5 0 0 1 3.4 0.6" stroke-width="1.3"/></g>
<text transform="translate(116.40 442.90) rotate(-37)" font-size="17" font-weight="bold" fill="#9a9a9a" opacity="0.065" text-anchor="middle">售电市场研修院</text><text transform="translate(123.3 452.1) rotate(-37)" font-size="8.5" fill="#9a9a9a" opacity="0.0715" text-anchor="middle" textLength="112" lengthAdjust="spacing">Power Market School</text>
<text transform="translate(307.60 437.10) rotate(-37)" font-size="17" font-weight="bold" fill="#9a9a9a" opacity="0.065" text-anchor="middle">售电市场研修院</text><text transform="translate(314.5 446.3) rotate(-37)" font-size="8.5" fill="#9a9a9a" opacity="0.0715" text-anchor="middle" textLength="112" lengthAdjust="spacing">Power Market School</text>
<text transform="translate(494.00 438.00) rotate(-37)" font-size="17" font-weight="bold" fill="#9a9a9a" opacity="0.065" text-anchor="middle">售电市场研修院</text><text transform="translate(500.9 447.2) rotate(-37)" font-size="8.5" fill="#9a9a9a" opacity="0.0715" text-anchor="middle" textLength="112" lengthAdjust="spacing">Power Market School</text>
<text transform="translate(116.00 605.00) rotate(-37)" font-size="17" font-weight="bold" fill="#9a9a9a" opacity="0.065" text-anchor="middle">售电市场研修院</text><text transform="translate(122.9 614.2) rotate(-37)" font-size="8.5" fill="#9a9a9a" opacity="0.0715" text-anchor="middle" textLength="112" lengthAdjust="spacing">Power Market School</text>
<text transform="translate(312.00 603.00) rotate(-37)" font-size="17" font-weight="bold" fill="#9a9a9a" opacity="0.065" text-anchor="middle">售电市场研修院</text><text transform="translate(318.9 612.2) rotate(-37)" font-size="8.5" fill="#9a9a9a" opacity="0.0715" text-anchor="middle" textLength="112" lengthAdjust="spacing">Power Market School</text>
<text transform="translate(499.00 605.00) rotate(-37)" font-size="17" font-weight="bold" fill="#9a9a9a" opacity="0.065" text-anchor="middle">售电市场研修院</text><text transform="translate(505.9 614.2) rotate(-37)" font-size="8.5" fill="#9a9a9a" opacity="0.0715" text-anchor="middle" textLength="112" lengthAdjust="spacing">Power Market School</text>
<text transform="translate(128.00 768.00) rotate(-37)" font-size="17" font-weight="bold" fill="#9a9a9a" opacity="0.065" text-anchor="middle">售电市场研修院</text><text transform="translate(134.9 777.2) rotate(-37)" font-size="8.5" fill="#9a9a9a" opacity="0.0715" text-anchor="middle" textLength="112" lengthAdjust="spacing">Power Market School</text>
<text transform="translate(323.00 768.00) rotate(-37)" font-size="17" font-weight="bold" fill="#9a9a9a" opacity="0.065" text-anchor="middle">售电市场研修院</text><text transform="translate(329.9 777.2) rotate(-37)" font-size="8.5" fill="#9a9a9a" opacity="0.0715" text-anchor="middle" textLength="112" lengthAdjust="spacing">Power Market School</text>
<text transform="translate(523.00 766.00) rotate(-37)" font-size="17" font-weight="bold" fill="#9a9a9a" opacity="0.065" text-anchor="middle">售电市场研修院</text><text transform="translate(529.9 775.2) rotate(-37)" font-size="8.5" fill="#9a9a9a" opacity="0.0715" text-anchor="middle" textLength="112" lengthAdjust="spacing">Power Market School</text>
<text transform="translate(-25.00 475.00) rotate(-37)" font-size="17" font-weight="bold" fill="#9a9a9a" opacity="0.065" text-anchor="middle">售电市场研修院</text><text transform="translate(-18.1 484.2) rotate(-37)" font-size="8.5" fill="#9a9a9a" opacity="0.0715" text-anchor="middle" textLength="112" lengthAdjust="spacing">Power Market School</text>
<text transform="translate(-25.00 650.00) rotate(-37)" font-size="17" font-weight="bold" fill="#9a9a9a" opacity="0.065" text-anchor="middle">售电市场研修院</text><text transform="translate(-18.1 659.2) rotate(-37)" font-size="8.5" fill="#9a9a9a" opacity="0.0715" text-anchor="middle" textLength="112" lengthAdjust="spacing">Power Market School</text>
</g>
<line x1="80.00" y1="475.30" x2="565.00" y2="475.30" stroke="#D9D9D9" stroke-width="0.8"/>
<line x1="80.00" y1="506.53" x2="565.00" y2="506.53" stroke="#D9D9D9" stroke-width="0.8"/>
<line x1="80.00" y1="537.77" x2="565.00" y2="537.77" stroke="#D9D9D9" stroke-width="0.8"/>
<line x1="80.00" y1="569.00" x2="565.00" y2="569.00" stroke="#D9D9D9" stroke-width="0.8"/>
<line x1="80.00" y1="600.23" x2="565.00" y2="600.23" stroke="#D9D9D9" stroke-width="0.8"/>
<line x1="80.00" y1="631.47" x2="565.00" y2="631.47" stroke="#D9D9D9" stroke-width="0.8"/>
<line x1="80.00" y1="662.70" x2="565.00" y2="662.70" stroke="#BFBFBF" stroke-width="0.8"/>
<text x="70.00" y="478.40" font-size="8.80" fill="#606060" text-anchor="end">600</text>
<text x="70.00" y="509.63" font-size="8.80" fill="#606060" text-anchor="end">500</text>
<text x="70.00" y="540.87" font-size="8.80" fill="#606060" text-anchor="end">400</text>
<text x="70.00" y="572.10" font-size="8.80" fill="#606060" text-anchor="end">300</text>
<text x="70.00" y="603.33" font-size="8.80" fill="#606060" text-anchor="end">200</text>
<text x="70.00" y="634.57" font-size="8.80" fill="#606060" text-anchor="end">100</text>
<text x="70.00" y="665.80" font-size="8.80" fill="#606060" text-anchor="end">0</text>
<text x="575.50" y="478.60" font-size="8.80" fill="#606060" text-anchor="start">40</text>
<text x="575.50" y="499.39" font-size="8.80" fill="#606060" text-anchor="start">30</text>
<text x="575.50" y="520.18" font-size="8.80" fill="#606060" text-anchor="start">20</text>
<text x="575.50" y="540.97" font-size="8.80" fill="#606060" text-anchor="start">10</text>
<text x="575.50" y="561.76" font-size="8.80" fill="#606060" text-anchor="start">0</text>
<text x="575.50" y="582.54" font-size="8.80" fill="#606060" text-anchor="start">-10</text>
<text x="575.50" y="603.33" font-size="8.80" fill="#606060" text-anchor="start">-20</text>
<text x="575.50" y="624.12" font-size="8.80" fill="#606060" text-anchor="start">-30</text>
<text x="575.50" y="644.91" font-size="8.80" fill="#606060" text-anchor="start">-40</text>
<text x="575.50" y="665.70" font-size="8.80" fill="#606060" text-anchor="start">-50</text>
<rect x="84.35" y="490.60" width="4.90" height="172.10" fill="#D9161C"/>
<rect x="98.68" y="502.00" width="4.90" height="160.70" fill="#4F7BAF"/>
<rect x="113.01" y="528.70" width="4.90" height="134.00" fill="#4F7BAF"/>
<rect x="127.34" y="530.00" width="4.90" height="132.70" fill="#4F7BAF"/>
<rect x="141.67" y="537.00" width="4.90" height="125.70" fill="#4F7BAF"/>
<rect x="156.00" y="544.00" width="4.90" height="118.70" fill="#4F7BAF"/>
<rect x="170.33" y="546.20" width="4.90" height="116.50" fill="#4F7BAF"/>
<rect x="184.66" y="550.50" width="4.90" height="112.20" fill="#4F7BAF"/>
<rect x="198.99" y="551.20" width="4.90" height="111.50" fill="#4F7BAF"/>
<rect x="213.32" y="557.00" width="4.90" height="105.70" fill="#4F7BAF"/>
<rect x="227.65" y="558.70" width="4.90" height="104.00" fill="#4F7BAF"/>
<rect x="241.98" y="563.20" width="4.90" height="99.50" fill="#4F7BAF"/>
<rect x="256.31" y="565.00" width="4.90" height="97.70" fill="#4F7BAF"/>
<rect x="270.64" y="569.70" width="4.90" height="93.00" fill="#4F7BAF"/>
<rect x="284.97" y="570.60" width="4.90" height="92.10" fill="#4F7BAF"/>
<rect x="299.30" y="573.00" width="4.90" height="89.70" fill="#F2BE2E"/>
<rect x="313.63" y="574.50" width="4.90" height="88.20" fill="#4F7BAF"/>
<rect x="327.96" y="575.00" width="4.90" height="87.70" fill="#4F7BAF"/>
<rect x="342.29" y="575.70" width="4.90" height="87.00" fill="#4F7BAF"/>
<rect x="356.62" y="577.50" width="4.90" height="85.20" fill="#4F7BAF"/>
<rect x="370.95" y="579.50" width="4.90" height="83.20" fill="#4F7BAF"/>
<rect x="385.28" y="580.00" width="4.90" height="82.70" fill="#4F7BAF"/>
<rect x="399.61" y="584.30" width="4.90" height="78.40" fill="#4F7BAF"/>
<rect x="413.94" y="585.00" width="4.90" height="77.70" fill="#4F7BAF"/>
<rect x="428.27" y="588.20" width="4.90" height="74.50" fill="#27A357"/>
<line x1="91.00" y1="559.30" x2="510.00" y2="559.30" stroke="#8F7A7C" stroke-width="0.9" stroke-dasharray="3.1 2.7"/>
<polyline points="86.80,562.00 101.13,492.50 115.46,527.50 129.79,540.00 144.12,553.70 158.45,502.50 172.78,654.80 187.11,565.50 201.44,564.50 215.77,567.50 230.10,550.50 244.43,558.00 258.76,558.70 273.09,567.70 287.42,556.50 301.75,566.50 316.08,558.00 330.41,538.70 344.74,563.70 359.07,558.00 373.40,576.20 387.73,559.70 402.06,565.30 416.39,555.50 430.72,556.70" fill="none" stroke="#5A2335" stroke-width="1.65" stroke-dasharray="3.4 1.5" stroke-linejoin="round"/>
<text transform="translate(90.60 669.00) rotate(-90)" font-size="10.1" fill="#333" text-anchor="end">浙江</text>
<text transform="translate(104.93 669.00) rotate(-90)" font-size="10.1" fill="#333" text-anchor="end">黑龙江</text>
<text transform="translate(119.26 669.00) rotate(-90)" font-size="10.1" fill="#333" text-anchor="end">安徽</text>
<text transform="translate(133.59 669.00) rotate(-90)" font-size="10.1" fill="#333" text-anchor="end">吉林</text>
<text transform="translate(147.92 669.00) rotate(-90)" font-size="10.1" fill="#333" text-anchor="end">海南</text>
<text transform="translate(162.25 669.00) rotate(-90)" font-size="10.1" fill="#333" text-anchor="end">福建</text>
<text transform="translate(176.58 669.00) rotate(-90)" font-size="10.1" fill="#333" text-anchor="end">辽宁</text>
<text transform="translate(190.91 669.00) rotate(-90)" font-size="10.1" fill="#333" text-anchor="end">湖南</text>
<text transform="translate(205.24 669.00) rotate(-90)" font-size="10.1" fill="#333" text-anchor="end">山西</text>
<text transform="translate(219.57 669.00) rotate(-90)" font-size="10.1" fill="#333" text-anchor="end">河南</text>
<text transform="translate(233.90 669.00) rotate(-90)" font-size="10.1" fill="#333" text-anchor="end">陕西</text>
<text transform="translate(248.23 669.00) rotate(-90)" font-size="10.1" fill="#333" text-anchor="end">蒙东</text>
<text transform="translate(262.56 669.00) rotate(-90)" font-size="10.1" fill="#333" text-anchor="end">重庆</text>
<text transform="translate(276.89 669.00) rotate(-90)" font-size="10.1" fill="#333" text-anchor="end">四川</text>
<text transform="translate(291.22 669.00) rotate(-90)" font-size="10.1" fill="#333" text-anchor="end">贵州</text>
<text transform="translate(305.55 669.00) rotate(-90)" font-size="10.1" fill="#333" text-anchor="end">全国平均</text>
<text transform="translate(319.88 669.00) rotate(-90)" font-size="10.1" fill="#333" text-anchor="end">江西</text>
<text transform="translate(334.21 669.00) rotate(-90)" font-size="10.1" fill="#333" text-anchor="end">青海</text>
<text transform="translate(348.54 669.00) rotate(-90)" font-size="10.1" fill="#333" text-anchor="end">广西</text>
<text transform="translate(362.87 669.00) rotate(-90)" font-size="10.1" fill="#333" text-anchor="end">广东</text>
<text transform="translate(377.20 669.00) rotate(-90)" font-size="10.1" fill="#333" text-anchor="end">湖北</text>
<text transform="translate(391.53 669.00) rotate(-90)" font-size="10.1" fill="#333" text-anchor="end">宁夏</text>
<text transform="translate(405.86 669.00) rotate(-90)" font-size="10.1" fill="#333" text-anchor="end">云南</text>
<text transform="translate(420.19 669.00) rotate(-90)" font-size="10.1" fill="#333" text-anchor="end">新疆</text>
<text transform="translate(434.52 669.00) rotate(-90)" font-size="10.1" fill="#333" text-anchor="end">甘肃</text>
<text transform="translate(448.85 669.00) rotate(-90)" font-size="10.1" fill="#333" text-anchor="end">北京</text>
<text transform="translate(463.18 669.00) rotate(-90)" font-size="10.1" fill="#333" text-anchor="end">天津</text>
<text transform="translate(477.51 669.00) rotate(-90)" font-size="10.1" fill="#333" text-anchor="end">河北</text>
<text transform="translate(491.84 669.00) rotate(-90)" font-size="10.1" fill="#333" text-anchor="end">山东</text>
<text transform="translate(506.17 669.00) rotate(-90)" font-size="10.1" fill="#333" text-anchor="end">蒙西</text>
<text transform="translate(520.50 669.00) rotate(-90)" font-size="10.1" fill="#333" text-anchor="end">上海</text>
<text transform="translate(534.83 669.00) rotate(-90)" font-size="10.1" fill="#333" text-anchor="end">江苏</text>
<text x="511.00" y="562.90" font-size="9.6" fill="#262626">增长率基准线</text>
<g transform="translate(48.30 635.20) rotate(-90)" fill="#4d4d4d" aria-label="水电上网电价（元/千千瓦时）"><text x="0" y="0" font-size="9.7">水电上网电价（</text><text x="64.90" y="0" font-size="9.7">元</text><text x="76.60" y="0" font-size="9.70">/</text><text x="81.59" y="0" font-size="9.7">千千瓦时</text><text x="127.29" y="0" font-size="9.7">）</text></g>
<text transform="translate(597.40 590.14) rotate(180)" font-size="10.3" fill="#4d4d4d" text-anchor="middle">增</text>
<text transform="translate(597.40 579.84) rotate(180)" font-size="10.3" fill="#4d4d4d" text-anchor="middle">长</text>
<text transform="translate(597.40 569.54) rotate(180)" font-size="10.3" fill="#4d4d4d" text-anchor="middle">率</text>
<g transform="translate(601.31 568.30) rotate(-90)" fill="#4d4d4d" aria-label="（%）"><text x="0" y="0" font-size="10.3">（</text><text x="10.70" y="0" font-size="9.27">%</text><text x="20.94" y="0" font-size="10.3">）</text></g>
<g transform="translate(193.00 445.40)" fill="#404040" aria-label="2015年发电企业平均上网电价情况（水电）"><text x="0.00" y="0" font-size="15.35">2015</text><text x="34.14" y="0" font-size="14.9">年发电企业平均上网电价情况（</text><text x="247.84" y="0" font-size="14.9">水电</text><text x="283.34" y="0" font-size="14.9">）</text></g>
<g transform="translate(264.00 465.00)" fill="#606060" aria-label="（单位：元/千千瓦时、%）"><text x="0" y="0" font-size="12">（</text><text x="16.30" y="0" font-size="12">单位：元</text><text x="64.30" y="0" font-size="10.80">/</text><text x="67.30" y="0" font-size="12">千千瓦时、</text><text x="127.30" y="0" font-size="10.80">%</text><text x="138.90" y="0" font-size="12">）</text></g>
<g transform="translate(36.00 422.00)"><path d="M16.2 8 C9.5 8 4.6 13 4.6 19.3 C4.6 23.5 7 26 9.2 28.3 C10.3 29.5 10.8 30.3 10.8 31 L21.4 31 C21.4 30.3 22 29.5 23.1 28.3 C25.3 26 27.8 23.5 27.8 19.3 C27.8 13 22.9 8 16.2 8 Z" fill="#1F6FC2"/><rect x="10.8" y="32.20" width="10.2" height="1.3" fill="#1F6FC2"/><rect x="10.8" y="34.15" width="10.2" height="1.3" fill="#1F6FC2"/><rect x="10.8" y="36.10" width="10.2" height="1.3" fill="#1F6FC2"/><path d="M5 9.5 L16 15.5 L27 9.5 L27 6 L5 6 Z" fill="#fff"/><path d="M6.5 8.5 L16 13.8 L25.7 8.5 L25.7 6 L6.5 6 Z" fill="#1F6FC2"/><path d="M0 5.8 L16 0 L32 5.8 L16 12 Z" fill="#1F6FC2"/><rect x="29.8" y="6.5" width="1.1" height="8.5" fill="#1F6FC2"/><g fill="none" stroke="#8FC4F2" stroke-width="1.7" transform="translate(16.2 20.4)"><circle r="3.6" stroke-dasharray="5.3 2.24" transform="rotate(-20)"/></g><g fill="#8FC4F2" transform="translate(16.2 20.4)"><path d="M3.6 -1.9 L5.6 0.4 L1.9 0.6 Z" transform="rotate(50)"/><path d="M3.6 -1.9 L5.6 0.4 L1.9 0.6 Z" transform="rotate(170)"/><path d="M3.6 -1.9 L5.6 0.4 L1.9 0.6 Z" transform="rotate(290)"/></g></g>
<text transform="translate(71.00 446.50) scale(1.115 1)" font-size="10.3" font-weight="bold" fill="#333">售电市场研修院</text><text x="71.30" y="454.10" font-size="6.6" fill="#6a6a6a" textLength="79.5" lengthAdjust="spacing">Power Market School</text>
<rect x="471.50" y="459.50" width="80.50" height="80.50" fill="#fff"/><path d="M476.00 464.00h13.58v1.98h-13.58zM495.32 464.00h5.85v1.98h-5.85zM504.99 464.00h1.98v1.98h-1.98zM514.65 464.00h17.44v1.98h-17.44zM533.97 464.00h13.58v1.98h-13.58zM476.00 465.93h1.98v1.98h-1.98zM487.59 465.93h1.98v1.98h-1.98zM491.46 465.93h1.98v1.98h-1.98zM495.32 465.93h1.98v1.98h-1.98zM501.12 465.93h3.91v1.98h-3.91zM506.92 465.93h1.98v1.98h-1.98zM510.78 465.93h3.91v1.98h-3.91zM518.51 465.93h5.85v1.98h-5.85zM528.18 465.93h3.91v1.98h-3.91zM533.97 465.93h1.98v1.98h-1.98zM545.57 465.93h1.98v1.98h-1.98zM476.00 467.86h1.98v1.98h-1.98zM479.86 467.86h5.85v1.98h-5.85zM487.59 467.86h1.98v1.98h-1.98zM491.46 467.86h1.98v1.98h-1.98zM495.32 467.86h3.91v1.98h-3.91zM503.05 467.86h1.98v1.98h-1.98zM506.92 467.86h3.91v1.98h-3.91zM512.72 467.86h7.78v1.98h-7.78zM522.38 467.86h1.98v1.98h-1.98zM526.24 467.86h3.91v1.98h-3.91zM533.97 467.86h1.98v1.98h-1.98zM537.84 467.86h5.85v1.98h-5.85zM545.57 467.86h1.98v1.98h-1.98zM476.00 469.80h1.98v1.98h-1.98zM479.86 469.80h5.85v1.98h-5.85zM487.59 469.80h1.98v1.98h-1.98zM491.46 469.80h3.91v1.98h-3.91zM497.26 469.80h1.98v1.98h-1.98zM501.12 469.80h1.98v1.98h-1.98zM506.92 469.80h3.91v1.98h-3.91zM512.72 469.80h3.91v1.98h-3.91zM522.38 469.80h1.98v1.98h-1.98zM526.24 469.80h5.85v1.98h-5.85zM533.97 469.80h1.98v1.98h-1.98zM537.84 469.80h5.85v1.98h-5.85zM545.57 469.80h1.98v1.98h-1.98zM476.00 471.73h1.98v1.98h-1.98zM479.86 471.73h5.85v1.98h-5.85zM487.59 471.73h1.98v1.98h-1.98zM495.32 471.73h1.98v1.98h-1.98zM499.19 471.73h1.98v1.98h-1.98zM503.05 471.73h1.98v1.98h-1.98zM506.92 471.73h1.98v1.98h-1.98zM522.38 471.73h1.98v1.98h-1.98zM530.11 471.73h1.98v1.98h-1.98zM533.97 471.73h1.98v1.98h-1.98zM537.84 471.73h5.85v1.98h-5.85zM545.57 471.73h1.98v1.98h-1.98zM476.00 473.66h1.98v1.98h-1.98zM487.59 473.66h1.98v1.98h-1.98zM493.39 473.66h1.98v1.98h-1.98zM497.26 473.66h1.98v1.98h-1.98zM501.12 473.66h3.91v1.98h-3.91zM506.92 473.66h1.98v1.98h-1.98zM512.72 473.66h5.85v1.98h-5.85zM520.45 473.66h3.91v1.98h-3.91zM528.18 473.66h1.98v1.98h-1.98zM533.97 473.66h1.98v1.98h-1.98zM545.57 473.66h1.98v1.98h-1.98zM476.00 475.59h13.58v1.98h-13.58zM491.46 475.59h11.64v1.98h-11.64zM504.99 475.59h3.91v1.98h-3.91zM512.72 475.59h5.85v1.98h-5.85zM520.45 475.59h1.98v1.98h-1.98zM526.24 475.59h1.98v1.98h-1.98zM530.11 475.59h1.98v1.98h-1.98zM533.97 475.59h13.58v1.98h-13.58zM491.46 477.53h5.85v1.98h-5.85zM499.19 477.53h5.85v1.98h-5.85zM506.92 477.53h1.98v1.98h-1.98zM512.72 477.53h1.98v1.98h-1.98zM518.51 477.53h1.98v1.98h-1.98zM524.31 477.53h3.91v1.98h-3.91zM483.73 479.46h1.98v1.98h-1.98zM495.32 479.46h1.98v1.98h-1.98zM501.12 479.46h5.85v1.98h-5.85zM510.78 479.46h3.91v1.98h-3.91zM516.58 479.46h1.98v1.98h-1.98zM520.45 479.46h3.91v1.98h-3.91zM526.24 479.46h5.85v1.98h-5.85zM539.77 479.46h1.98v1.98h-1.98zM543.64 479.46h3.91v1.98h-3.91zM476.00 481.39h3.91v1.98h-3.91zM483.73 481.39h1.98v1.98h-1.98zM489.53 481.39h3.91v1.98h-3.91zM497.26 481.39h1.98v1.98h-1.98zM503.05 481.39h1.98v1.98h-1.98zM506.92 481.39h1.98v1.98h-1.98zM510.78 481.39h1.98v1.98h-1.98zM514.65 481.39h1.98v1.98h-1.98zM518.51 481.39h3.91v1.98h-3.91zM526.24 481.39h1.98v1.98h-1.98zM530.11 481.39h1.98v1.98h-1.98zM533.97 481.39h1.98v1.98h-1.98zM539.77 481.39h7.78v1.98h-7.78zM479.86 483.32h5.85v1.98h-5.85zM489.53 483.32h1.98v1.98h-1.98zM493.39 483.32h5.85v1.98h-5.85zM501.12 483.32h3.91v1.98h-3.91zM506.92 483.32h1.98v1.98h-1.98zM510.78 483.32h7.78v1.98h-7.78zM520.45 483.32h11.64v1.98h-11.64zM535.91 483.32h1.98v1.98h-1.98zM543.64 483.32h1.98v1.98h-1.98zM479.86 485.26h3.91v1.98h-3.91zM485.66 485.26h1.98v1.98h-1.98zM491.46 485.26h3.91v1.98h-3.91zM497.26 485.26h3.91v1.98h-3.91zM503.05 485.26h1.98v1.98h-1.98zM506.92 485.26h3.91v1.98h-3.91zM512.72 485.26h3.91v1.98h-3.91zM522.38 485.26h3.91v1.98h-3.91zM528.18 485.26h1.98v1.98h-1.98zM532.04 485.26h7.78v1.98h-7.78zM541.70 485.26h1.98v1.98h-1.98zM545.57 485.26h1.98v1.98h-1.98zM476.00 487.19h3.91v1.98h-3.91zM485.66 487.19h3.91v1.98h-3.91zM491.46 487.19h1.98v1.98h-1.98zM495.32 487.19h7.78v1.98h-7.78zM504.99 487.19h1.98v1.98h-1.98zM510.78 487.19h3.91v1.98h-3.91zM516.58 487.19h9.71v1.98h-9.71zM535.91 487.19h1.98v1.98h-1.98zM539.77 487.19h1.98v1.98h-1.98zM545.57 487.19h1.98v1.98h-1.98zM483.73 489.12h1.98v1.98h-1.98zM495.32 489.12h1.98v1.98h-1.98zM499.19 489.12h9.71v1.98h-9.71zM512.72 489.12h1.98v1.98h-1.98zM518.51 489.12h1.98v1.98h-1.98zM526.24 489.12h1.98v1.98h-1.98zM537.84 489.12h1.98v1.98h-1.98zM543.64 489.12h3.91v1.98h-3.91zM476.00 491.05h9.71v1.98h-9.71zM489.53 491.05h1.98v1.98h-1.98zM501.12 491.05h1.98v1.98h-1.98zM506.92 491.05h1.98v1.98h-1.98zM510.78 491.05h7.78v1.98h-7.78zM520.45 491.05h1.98v1.98h-1.98zM524.31 491.05h3.91v1.98h-3.91zM530.11 491.05h3.91v1.98h-3.91zM537.84 491.05h1.98v1.98h-1.98zM541.70 491.05h5.85v1.98h-5.85zM476.00 492.99h3.91v1.98h-3.91zM481.80 492.99h1.98v1.98h-1.98zM487.59 492.99h1.98v1.98h-1.98zM493.39 492.99h1.98v1.98h-1.98zM497.26 492.99h3.91v1.98h-3.91zM503.05 492.99h1.98v1.98h-1.98zM518.51 492.99h1.98v1.98h-1.98zM522.38 492.99h11.64v1.98h-11.64zM535.91 492.99h3.91v1.98h-3.91zM541.70 492.99h1.98v1.98h-1.98zM481.80 494.92h3.91v1.98h-3.91zM491.46 494.92h3.91v1.98h-3.91zM518.51 494.92h3.91v1.98h-3.91zM524.31 494.92h1.98v1.98h-1.98zM528.18 494.92h3.91v1.98h-3.91zM537.84 494.92h7.78v1.98h-7.78zM477.93 496.85h3.91v1.98h-3.91zM487.59 496.85h5.85v1.98h-5.85zM495.32 496.85h1.98v1.98h-1.98zM501.12 496.85h1.98v1.98h-1.98zM518.51 496.85h1.98v1.98h-1.98zM522.38 496.85h1.98v1.98h-1.98zM526.24 496.85h1.98v1.98h-1.98zM530.11 496.85h3.91v1.98h-3.91zM535.91 496.85h3.91v1.98h-3.91zM543.64 496.85h3.91v1.98h-3.91zM476.00 498.78h1.98v1.98h-1.98zM479.86 498.78h3.91v1.98h-3.91zM493.39 498.78h1.98v1.98h-1.98zM497.26 498.78h5.85v1.98h-5.85zM518.51 498.78h1.98v1.98h-1.98zM530.11 498.78h1.98v1.98h-1.98zM535.91 498.78h5.85v1.98h-5.85zM479.86 500.72h1.98v1.98h-1.98zM485.66 500.72h3.91v1.98h-3.91zM493.39 500.72h1.98v1.98h-1.98zM497.26 500.72h1.98v1.98h-1.98zM503.05 500.72h1.98v1.98h-1.98zM520.45 500.72h1.98v1.98h-1.98zM530.11 500.72h1.98v1.98h-1.98zM476.00 502.65h1.98v1.98h-1.98zM481.80 502.65h5.85v1.98h-5.85zM491.46 502.65h9.71v1.98h-9.71zM503.05 502.65h1.98v1.98h-1.98zM522.38 502.65h9.71v1.98h-9.71zM535.91 502.65h7.78v1.98h-7.78zM545.57 502.65h1.98v1.98h-1.98zM479.86 504.58h3.91v1.98h-3.91zM487.59 504.58h1.98v1.98h-1.98zM493.39 504.58h5.85v1.98h-5.85zM503.05 504.58h1.98v1.98h-1.98zM518.51 504.58h3.91v1.98h-3.91zM528.18 504.58h7.78v1.98h-7.78zM537.84 504.58h1.98v1.98h-1.98zM543.64 504.58h1.98v1.98h-1.98zM476.00 506.51h1.98v1.98h-1.98zM479.86 506.51h1.98v1.98h-1.98zM487.59 506.51h3.91v1.98h-3.91zM493.39 506.51h5.85v1.98h-5.85zM504.99 506.51h1.98v1.98h-1.98zM508.85 506.51h1.98v1.98h-1.98zM512.72 506.51h1.98v1.98h-1.98zM516.58 506.51h1.98v1.98h-1.98zM520.45 506.51h3.91v1.98h-3.91zM526.24 506.51h9.71v1.98h-9.71zM537.84 506.51h1.98v1.98h-1.98zM541.70 506.51h5.85v1.98h-5.85zM481.80 508.45h3.91v1.98h-3.91zM487.59 508.45h1.98v1.98h-1.98zM491.46 508.45h3.91v1.98h-3.91zM499.19 508.45h1.98v1.98h-1.98zM503.05 508.45h3.91v1.98h-3.91zM508.85 508.45h5.85v1.98h-5.85zM516.58 508.45h3.91v1.98h-3.91zM522.38 508.45h1.98v1.98h-1.98zM530.11 508.45h1.98v1.98h-1.98zM533.97 508.45h5.85v1.98h-5.85zM543.64 508.45h3.91v1.98h-3.91zM479.86 510.38h11.64v1.98h-11.64zM493.39 510.38h3.91v1.98h-3.91zM503.05 510.38h9.71v1.98h-9.71zM522.38 510.38h5.85v1.98h-5.85zM530.11 510.38h5.85v1.98h-5.85zM541.70 510.38h1.98v1.98h-1.98zM477.93 512.31h5.85v1.98h-5.85zM487.59 512.31h1.98v1.98h-1.98zM493.39 512.31h1.98v1.98h-1.98zM499.19 512.31h5.85v1.98h-5.85zM508.85 512.31h1.98v1.98h-1.98zM512.72 512.31h5.85v1.98h-5.85zM520.45 512.31h1.98v1.98h-1.98zM530.11 512.31h1.98v1.98h-1.98zM539.77 512.31h1.98v1.98h-1.98zM543.64 512.31h1.98v1.98h-1.98zM476.00 514.24h1.98v1.98h-1.98zM481.80 514.24h1.98v1.98h-1.98zM485.66 514.24h5.85v1.98h-5.85zM497.26 514.24h1.98v1.98h-1.98zM503.05 514.24h1.98v1.98h-1.98zM508.85 514.24h9.71v1.98h-9.71zM520.45 514.24h17.44v1.98h-17.44zM541.70 514.24h3.91v1.98h-3.91zM481.80 516.18h1.98v1.98h-1.98zM489.53 516.18h3.91v1.98h-3.91zM497.26 516.18h5.85v1.98h-5.85zM504.99 516.18h3.91v1.98h-3.91zM518.51 516.18h1.98v1.98h-1.98zM522.38 516.18h5.85v1.98h-5.85zM533.97 516.18h13.58v1.98h-13.58zM483.73 518.11h1.98v1.98h-1.98zM487.59 518.11h1.98v1.98h-1.98zM495.32 518.11h1.98v1.98h-1.98zM499.19 518.11h1.98v1.98h-1.98zM504.99 518.11h9.71v1.98h-9.71zM518.51 518.11h3.91v1.98h-3.91zM524.31 518.11h3.91v1.98h-3.91zM530.11 518.11h1.98v1.98h-1.98zM533.97 518.11h1.98v1.98h-1.98zM537.84 518.11h5.85v1.98h-5.85zM493.39 520.04h1.98v1.98h-1.98zM497.26 520.04h3.91v1.98h-3.91zM503.05 520.04h1.98v1.98h-1.98zM510.78 520.04h1.98v1.98h-1.98zM516.58 520.04h7.78v1.98h-7.78zM526.24 520.04h1.98v1.98h-1.98zM533.97 520.04h3.91v1.98h-3.91zM543.64 520.04h3.91v1.98h-3.91zM476.00 521.97h13.58v1.98h-13.58zM493.39 521.97h1.98v1.98h-1.98zM497.26 521.97h3.91v1.98h-3.91zM503.05 521.97h3.91v1.98h-3.91zM508.85 521.97h3.91v1.98h-3.91zM514.65 521.97h1.98v1.98h-1.98zM520.45 521.97h3.91v1.98h-3.91zM526.24 521.97h9.71v1.98h-9.71zM537.84 521.97h1.98v1.98h-1.98zM543.64 521.97h3.91v1.98h-3.91zM476.00 523.91h1.98v1.98h-1.98zM487.59 523.91h1.98v1.98h-1.98zM491.46 523.91h3.91v1.98h-3.91zM501.12 523.91h5.85v1.98h-5.85zM508.85 523.91h3.91v1.98h-3.91zM520.45 523.91h13.58v1.98h-13.58zM535.91 523.91h1.98v1.98h-1.98zM545.57 523.91h1.98v1.98h-1.98zM476.00 525.84h1.98v1.98h-1.98zM479.86 525.84h5.85v1.98h-5.85zM487.59 525.84h1.98v1.98h-1.98zM491.46 525.84h1.98v1.98h-1.98zM495.32 525.84h5.85v1.98h-5.85zM506.92 525.84h7.78v1.98h-7.78zM516.58 525.84h3.91v1.98h-3.91zM524.31 525.84h3.91v1.98h-3.91zM530.11 525.84h3.91v1.98h-3.91zM535.91 525.84h11.64v1.98h-11.64zM476.00 527.77h1.98v1.98h-1.98zM479.86 527.77h5.85v1.98h-5.85zM487.59 527.77h1.98v1.98h-1.98zM493.39 527.77h3.91v1.98h-3.91zM501.12 527.77h3.91v1.98h-3.91zM506.92 527.77h3.91v1.98h-3.91zM518.51 527.77h3.91v1.98h-3.91zM524.31 527.77h1.98v1.98h-1.98zM528.18 527.77h5.85v1.98h-5.85zM535.91 527.77h11.64v1.98h-11.64zM476.00 529.70h1.98v1.98h-1.98zM479.86 529.70h5.85v1.98h-5.85zM487.59 529.70h1.98v1.98h-1.98zM491.46 529.70h9.71v1.98h-9.71zM504.99 529.70h5.85v1.98h-5.85zM512.72 529.70h1.98v1.98h-1.98zM520.45 529.70h7.78v1.98h-7.78zM530.11 529.70h1.98v1.98h-1.98zM533.97 529.70h11.64v1.98h-11.64zM476.00 531.64h1.98v1.98h-1.98zM487.59 531.64h1.98v1.98h-1.98zM493.39 531.64h5.85v1.98h-5.85zM501.12 531.64h3.91v1.98h-3.91zM506.92 531.64h11.64v1.98h-11.64zM526.24 531.64h1.98v1.98h-1.98zM532.04 531.64h1.98v1.98h-1.98zM541.70 531.64h1.98v1.98h-1.98zM545.57 531.64h1.98v1.98h-1.98zM476.00 533.57h13.58v1.98h-13.58zM491.46 533.57h5.85v1.98h-5.85zM499.19 533.57h9.71v1.98h-9.71zM516.58 533.57h13.58v1.98h-13.58zM532.04 533.57h9.71v1.98h-9.71zM545.57 533.57h1.98v1.98h-1.98z" fill="#111"/><rect x="504.25" y="493.25" width="15" height="13" rx="1.5" fill="#fff"/><rect x="505.95" y="495.55" width="5" height="3.6" rx="0.8" fill="none" stroke="#1FA79A" stroke-width="1.2"/><rect x="512.55" y="495.55" width="5" height="3.6" rx="0.8" fill="none" stroke="#2C9BD6" stroke-width="1.2"/><rect x="506.45" y="501.95" width="10.5" height="1.1" fill="#9fd3cf"/>
<rect x="193.70" y="721.20" width="27" height="6" fill="#4F7BAF"/>
<g transform="translate(223.70 727.70)" fill="#606060" aria-label="水电 2015年"><text x="0" y="0" font-size="9.6">水电</text><text x="22.08" y="0" font-size="8.93">2015</text><text x="41.94" y="0" font-size="9.6">年</text></g>
<line x1="290.00" y1="724.50" x2="319.50" y2="724.50" stroke="#5A2335" stroke-width="1.6" stroke-dasharray="4.3 1.75"/>
<text x="321.00" y="727.70" font-size="9.6" fill="#606060">增长率</text>
<line x1="365.50" y1="724.50" x2="392.00" y2="724.50" stroke="#9a9a9a" stroke-width="0.8" stroke-dasharray="2.6 2"/>
<text x="396.50" y="727.70" font-size="9.6" fill="#606060">增长率基准线</text>

<path d="M111.5 490.5 L104.5 490.8 L101.2 493" fill="none" stroke="#8a8a8a" stroke-width="0.7"/>
<rect x="70.80" y="471.20" width="34.60" height="17.30" rx="2.5" fill="#FBD560" stroke="#EFC443" stroke-width="0.6" opacity="1"/><text x="88.10" y="482.95" font-size="8.80" fill="#5C4A1E" text-anchor="middle">552.3</text>
<rect x="111.20" y="483.50" width="36.60" height="16.90" rx="2.5" fill="#9CCB6B" stroke="#8ABF58" stroke-width="0.6" opacity="1"/><text x="129.50" y="495.05" font-size="8.80" fill="#3F6B2A" text-anchor="middle">31.71%</text>
<line x1="301.2" y1="555.5" x2="301.2" y2="573" stroke="#BFA94A" stroke-width="0.6"/>
<rect x="284.50" y="540.00" width="33.50" height="15.50" rx="2.5" fill="#FBD560" stroke="#EFC443" stroke-width="0.6" opacity="1"/><text x="301.25" y="550.85" font-size="8.80" fill="#5C4A1E" text-anchor="middle">286.9</text>
<rect x="415.00" y="568.70" width="30.00" height="16.30" rx="2.5" fill="#FBD560" stroke="#EFC443" stroke-width="0.6" opacity="1"/><text x="430.00" y="579.95" font-size="8.80" fill="#5C4A1E" text-anchor="middle">239.5</text>
<rect x="154.40" y="629.20" width="41.30" height="15.80" rx="2.5" fill="#9CCB6B" stroke="#8ABF58" stroke-width="0.6" opacity="0.8"/><text x="175.05" y="640.20" font-size="8.80" fill="#3F6B2A" text-anchor="middle">-46.01%</text>
<g fill="none" stroke="#CFCFCF" stroke-width="1.25" stroke-linejoin="round"><path d="M447.00 747.50 a8.5 7 0 1 1 4.2 6.1 l-3.6 1.9 l1 -3.3 a8.5 7 0 0 1 -1.6 -4.7 z" fill="#fff"/><path d="M475.00 752.50 a9.5 8 0 1 0 -5 7 l4 2.2 l-1 -3.6 a9.5 8 0 0 0 2 -5.6 z" fill="#fff"/></g><g fill="#CFCFCF"><circle cx="452.50" cy="745.50" r="1"/><circle cx="458.50" cy="745.50" r="1"/><circle cx="462.50" cy="750.50" r="0.9"/><circle cx="468.50" cy="750.50" r="0.9"/></g>
<text x="482.00" y="757.50" font-size="19.3" fill="#C2C2C2">电力市场观察</text>
</svg>
</body></html>
